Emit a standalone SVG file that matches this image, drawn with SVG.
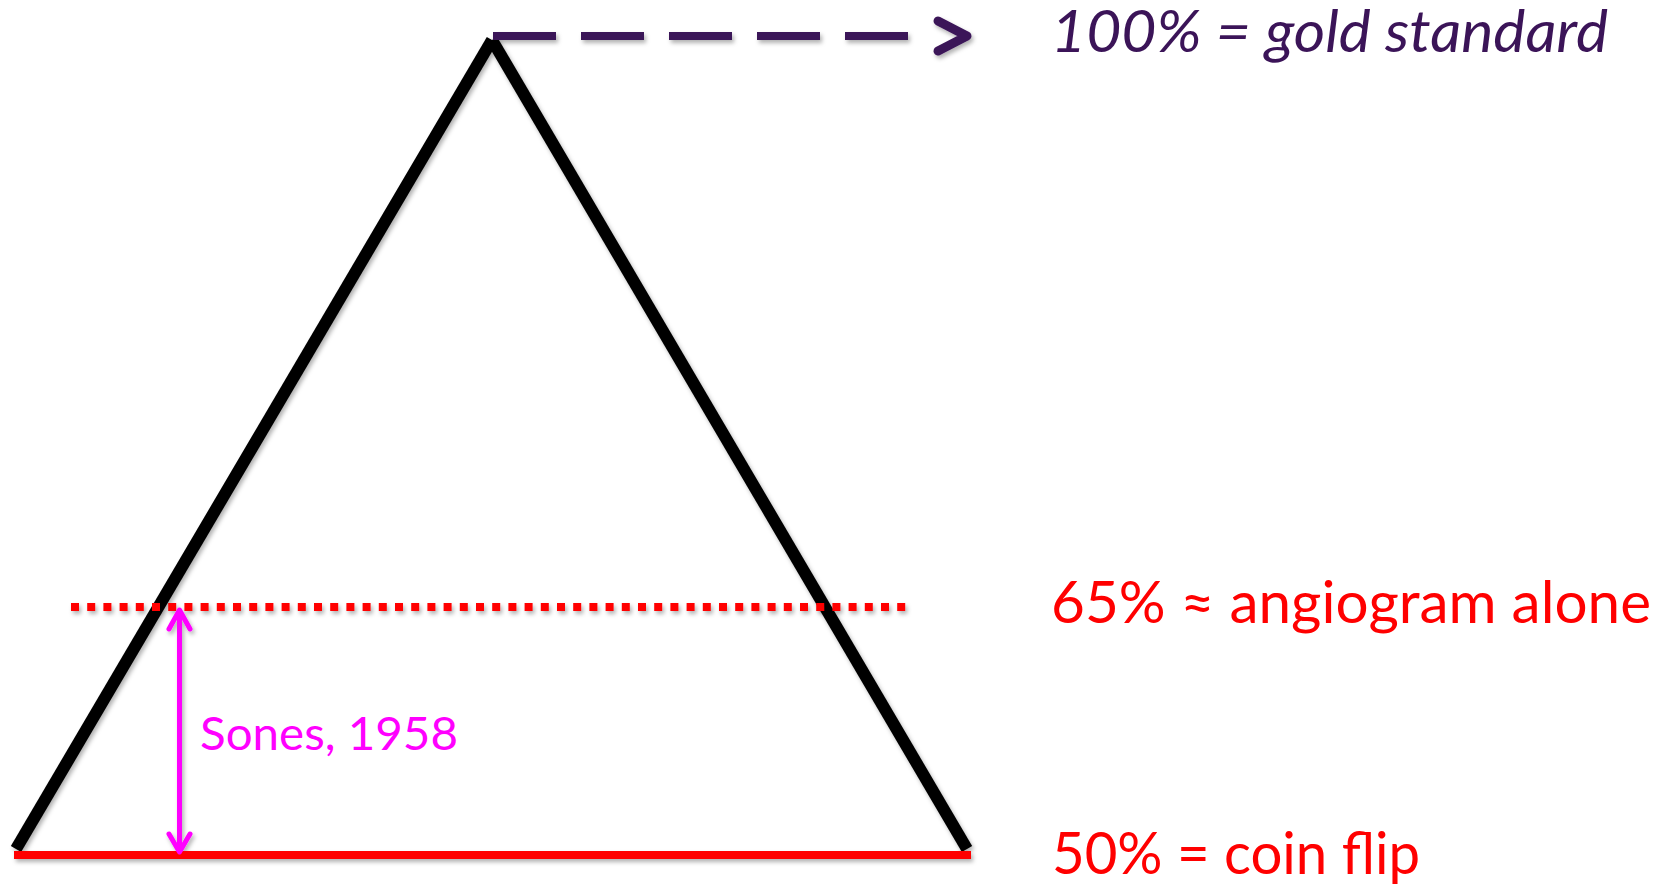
<svg xmlns="http://www.w3.org/2000/svg" width="1668" height="885" viewBox="0 0 1668 885">
<defs>
<filter id="sh" x="-5%" y="-5%" width="110%" height="110%">
<feDropShadow dx="2" dy="3" stdDeviation="2" flood-color="#000" flood-opacity="0.3"/>
</filter>
</defs>
<style>
.lbl{font-family:Lato,"Open Sans","Liberation Sans",sans-serif;}
.big{font-size:59px;}
.red{fill:#ff0000;}
.purple{fill:#3b1458;}
.mag{fill:#ff00ff;font-size:47px;}
.tri{stroke:#000;stroke-width:12;fill:none;stroke-linecap:butt;}
</style>
<rect width="1668" height="885" fill="#fff"/>
<g id="triangle" filter="url(#sh)">
<line class="tri" x1="16" y1="849" x2="492" y2="40"/>
<line class="tri" x1="492" y1="40" x2="967" y2="849"/>
</g>
<g id="connectors" filter="url(#sh)">
<line x1="493" y1="36" x2="908" y2="36" stroke="#3b1458" stroke-width="8" stroke-dasharray="63 25"/>
<polyline points="938,21 967,36 938,51" fill="none" stroke="#3b1458" stroke-width="9" stroke-linecap="round" stroke-linejoin="round"/>
<line x1="71" y1="607" x2="911" y2="607" stroke="#ff0000" stroke-width="8" stroke-dasharray="8 8.2"/>
<line x1="14" y1="855" x2="971" y2="855" stroke="#ff0000" stroke-width="8"/>
<line x1="179.5" y1="611" x2="179.5" y2="850" stroke="#ff00ff" stroke-width="5"/>
<polyline points="169,629 179.5,610 190,629" fill="none" stroke="#ff00ff" stroke-width="5" stroke-linecap="round" stroke-linejoin="round"/>
<polyline points="169,834 179.5,852 190,834" fill="none" stroke="#ff00ff" stroke-width="5" stroke-linecap="round" stroke-linejoin="round"/>
</g>
<g id="label-100">
<text class="lbl big purple" x="1051" y="52" font-style="italic" textLength="557" lengthAdjust="spacingAndGlyphs">100% = gold standard</text>
</g>
<g id="label-65">
<text class="lbl big red" x="1051" y="623" textLength="600" lengthAdjust="spacingAndGlyphs">65% ≈ angiogram alone</text>
</g>
<g id="label-50">
<text class="lbl big red" x="1052" y="874" textLength="368" lengthAdjust="spacingAndGlyphs">50% = coin flip</text>
</g>
<g id="label-sones">
<text class="lbl mag" x="200" y="750" textLength="258" lengthAdjust="spacingAndGlyphs">Sones, 1958</text>
</g>
</svg>
